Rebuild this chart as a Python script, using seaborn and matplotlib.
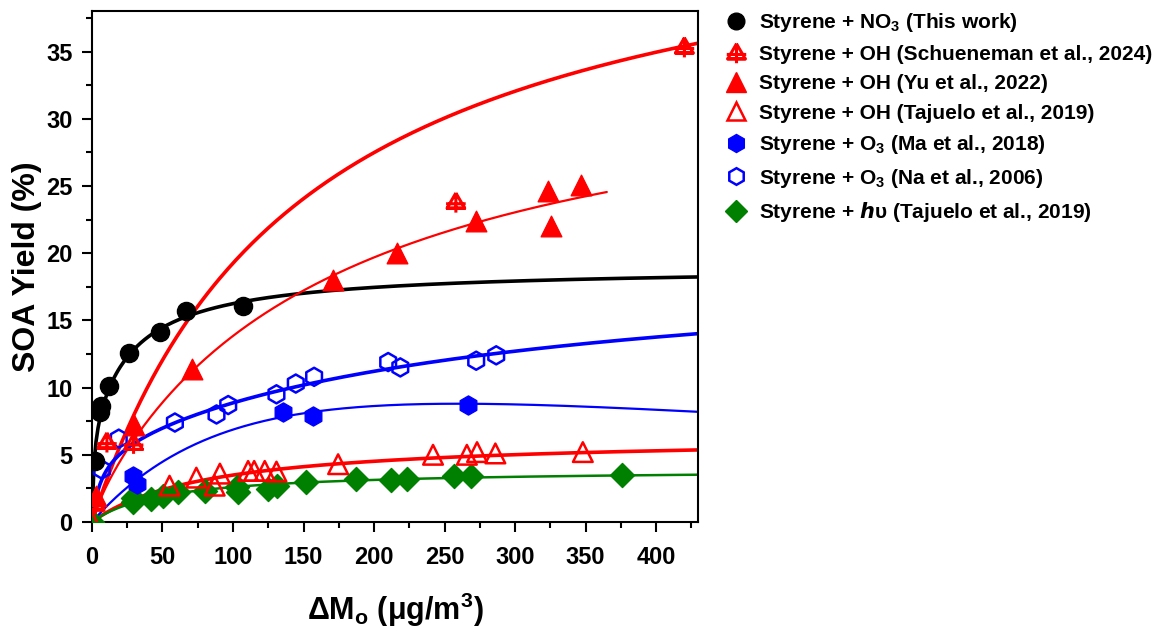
import numpy as np
import pandas as pd
import matplotlib
matplotlib.use("Agg")
import matplotlib.pyplot as plt
from matplotlib.path import Path
from matplotlib.lines import Line2D
from matplotlib.ticker import MultipleLocator
import seaborn as sns

# --- data (x = delta Mo in ug/m3, y = SOA yield in %) ---
no3_x = [2.3, 5.7, 6.4, 12.3, 26.2, 48.2, 67, 107]
no3_y = [4.55, 8.2, 8.6, 10.1, 12.6, 14.1, 15.7, 16.1]

sch_x = [2.3, 10.6, 29.5, 258, 420]
sch_y = [1.3, 5.9, 5.8, 23.75, 35.3]

yu_x = [3, 29.5, 70.6, 171, 216, 272, 323, 325.6, 347]
yu_y = [1.9, 7.2, 11.4, 18.0, 20.0, 22.4, 24.6, 22.0, 25.1]

taj_oh_x = [0, 55, 74, 87, 90.7, 110.7, 115, 122.5, 130.8, 174.5, 241.8, 265.8, 273, 286, 348]
taj_oh_y = [0, 2.7, 3.3, 2.7, 3.6, 3.8, 3.8, 3.8, 3.75, 4.3, 5.0, 5.0, 5.2, 5.1, 5.2]

ma_x = [29, 32, 135.5, 156.8, 266.6]
ma_y = [3.4, 2.8, 8.15, 7.9, 8.7]

na_x = [7, 19, 58.8, 88.3, 96.6, 130.8, 144.5, 157.5, 210, 218.6, 272.4, 286.6]
na_y = [3.9, 6.2, 7.4, 8.0, 8.7, 9.5, 10.3, 10.8, 11.9, 11.5, 12.0, 12.4]

hv_x = [0, 29, 29, 42, 50.5, 61, 80, 102.5, 103.6, 125, 131, 152, 187.5, 212, 223, 257, 269, 375.5]
hv_y = [0, 1.8, 1.45, 1.7, 1.95, 2.2, 2.3, 2.6, 2.2, 2.45, 2.7, 2.95, 3.2, 3.15, 3.2, 3.45, 3.45, 3.5]

# fitted curve parameters (Odum two-product: a1, K1, a2, K2), read from the drawn fits
no3_fit = [7.0, 0.8, 12.0, 0.035]
sch_fit = [48.0, 0.0067, 0.0, 0.0]
yu_fit = [1.5, 0.1, 34.0, 0.0058]
taj_oh_fit = [6.4, 0.012, 0.0, 0.0]
na_fit = [5.5, 0.15, 14.33, 0.00349]
hv_fit = [3.94, 0.01935, 0.0, 0.0]
ma_fit = [0.119, 0.00583, 1.48e-5]   # A*x / (1 + B*x + C*x^2)


def odum(x, p):
    a1, k1, a2, k2 = p
    return x * (a1 * k1 / (1 + k1 * x) + a2 * k2 / (1 + k2 * x))


def curve(xmax, p, kind="odum"):
    x = np.linspace(0, xmax, 300)
    if kind == "odum":
        y = odum(x, p)
    else:
        y = p[0] * x / (1 + p[1] * x + p[2] * x ** 2)
    return pd.DataFrame({"x": x, "y": y})


sns.set_theme(style="ticks")
plt.rcParams["font.family"] = ["Liberation Sans", "DejaVu Sans"]
plt.rcParams["font.weight"] = "bold"
plt.rcParams["axes.labelweight"] = "bold"
plt.rcParams["mathtext.default"] = "regular"
for key in ["text.color", "axes.labelcolor", "xtick.color", "ytick.color", "axes.edgecolor"]:
    plt.rcParams[key] = "black"

RED = "#ff0000"
BLUE = "#0000ff"
GREEN = "#008000"

# crossed triangle symbol
cross_tri = Path(
    [(0, 1), (-0.9, -0.55), (0.9, -0.55), (0, 1),
     (-1.0, -0.1), (1.0, -0.1),
     (-1.0, -0.55), (1.0, -0.55),
     (0, 1), (0, -1.0)],
    [Path.MOVETO, Path.LINETO, Path.LINETO, Path.LINETO,
     Path.MOVETO, Path.LINETO,
     Path.MOVETO, Path.LINETO,
     Path.MOVETO, Path.LINETO])

fig, ax = plt.subplots(figsize=(11.7, 6.27), dpi=100)
fig.subplots_adjust(left=0.0786, right=0.597, bottom=0.1675, top=0.982)

# fit curves
sns.lineplot(data=curve(430, no3_fit), x="x", y="y", color="black", linewidth=2.6, ax=ax)
sns.lineplot(data=curve(430, sch_fit), x="x", y="y", color=RED, linewidth=2.6, ax=ax)
sns.lineplot(data=curve(365, yu_fit), x="x", y="y", color=RED, linewidth=1.6, ax=ax)
sns.lineplot(data=curve(430, taj_oh_fit), x="x", y="y", color=RED, linewidth=2.6, ax=ax)
sns.lineplot(data=curve(430, ma_fit, "rational"), x="x", y="y", color=BLUE, linewidth=1.6, ax=ax)
sns.lineplot(data=curve(430, na_fit), x="x", y="y", color=BLUE, linewidth=2.6, ax=ax)
sns.lineplot(data=curve(430, hv_fit), x="x", y="y", color=GREEN, linewidth=1.8, ax=ax)


def points(xs, ys, color, marker, s, hollow=False, lw=1.0):
    sns.scatterplot(x=xs, y=ys, color=color, marker=marker, s=s,
                    linewidth=lw, edgecolor=color, ax=ax, zorder=3)
    coll = ax.collections[-1]
    if hollow:
        coll.set_facecolor("none")
        coll.set_edgecolor(color)
        coll.set_linewidth(lw)


points(hv_x, hv_y, GREEN, "D", 150)
points(na_x, na_y, BLUE, "h", 170, hollow=True, lw=1.8)
points(ma_x, ma_y, BLUE, "h", 190)
points(taj_oh_x, taj_oh_y, RED, "^", 200, hollow=True, lw=1.8)
points(yu_x, yu_y, RED, "^", 220)
points(sch_x, sch_y, RED, cross_tri, 200, hollow=True, lw=2.2)
points(no3_x, no3_y, "black", "o", 170)

ax.set_xlim(0, 430)
ax.set_ylim(0, 38)
ax.xaxis.set_major_locator(MultipleLocator(50))
ax.xaxis.set_minor_locator(MultipleLocator(25))
ax.yaxis.set_major_locator(MultipleLocator(5))
ax.yaxis.set_minor_locator(MultipleLocator(2.5))
ax.set_xticks(np.arange(0, 401, 50))
ax.tick_params(axis="both", which="major", direction="out", length=7, width=1.5,
               labelsize=17, pad=7)
ax.tick_params(axis="x", which="major", pad=10)
ax.tick_params(axis="both", which="minor", direction="out", length=4, width=1.5)
for lab in ax.get_xticklabels() + ax.get_yticklabels():
    lab.set_fontweight("bold")
for sp in ax.spines.values():
    sp.set_linewidth(1.5)
    sp.set_color("black")

ax.set_xlabel(r"ΔM$_\mathregular{o}$ (μg/m$^\mathregular{3}$)", fontsize=22,
              fontweight="bold", labelpad=16)
ax.set_ylabel("SOA Yield (%)", fontsize=23, fontweight="bold", labelpad=3)

handles = [
    Line2D([], [], ls="", marker="o", ms=12, color="black"),
    Line2D([], [], ls="", marker=cross_tri, ms=14, mfc="none", mec=RED, mew=2.2),
    Line2D([], [], ls="", marker="^", ms=14, color=RED),
    Line2D([], [], ls="", marker="^", ms=13, mfc="none", mec=RED, mew=1.8),
    Line2D([], [], ls="", marker="h", ms=13, color=BLUE),
    Line2D([], [], ls="", marker="h", ms=12, mfc="none", mec=BLUE, mew=1.8),
    Line2D([], [], ls="", marker="D", ms=11, color=GREEN),
]
labels = [
    r"Styrene + NO$_\mathregular{3}$ (This work)",
    "Styrene + OH (Schueneman et al., 2024)",
    "Styrene + OH (Yu et al., 2022)",
    "Styrene + OH (Tajuelo et al., 2019)",
    r"Styrene + O$_\mathregular{3}$ (Ma et al., 2018)",
    r"Styrene + O$_\mathregular{3}$ (Na et al., 2006)",
    r"Styrene + $\mathit{h}$υ (Tajuelo et al., 2019)",
]
leg = fig.legend(handles, labels, loc="upper left", bbox_to_anchor=(0.612, 0.995),
                 frameon=False, fontsize=15, handlelength=1.1, handletextpad=0.55,
                 labelspacing=0.5, borderaxespad=0)
for t in leg.get_texts():
    t.set_fontweight("bold")

fig.savefig("out.png", dpi=100)
